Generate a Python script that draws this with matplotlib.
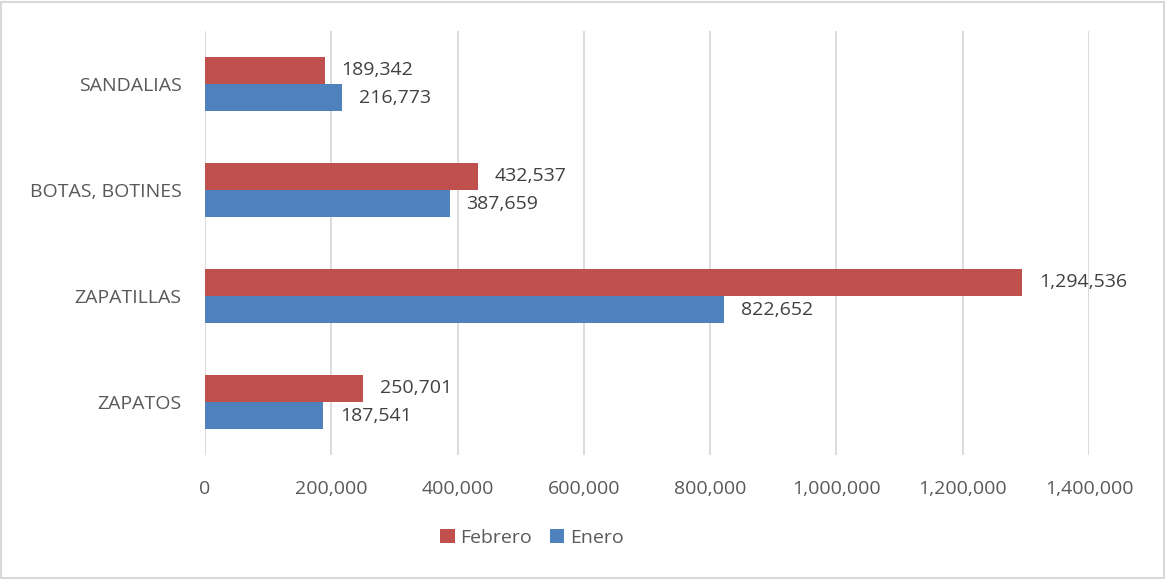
import matplotlib.pyplot as plt
import matplotlib.patches as patches
import numpy as np

categories = ['ZAPATOS', 'ZAPATILLAS', 'BOTAS, BOTINES', 'SANDALIAS']
enero = [187541, 822652, 387659, 216773]
febrero = [250701, 1294536, 432537, 189342]
xticks = [0, 200000, 400000, 600000, 800000, 1000000, 1200000, 1400000]

plt.rcParams['font.family'] = ['Open Sans', 'DejaVu Sans']

fig = plt.figure(figsize=(11.66, 5.79), dpi=100)
ax = fig.add_axes([205 / 1166, 1 - 455 / 579, (1089 - 205) / 1166, 424 / 579])

y = np.arange(len(categories))
h = 0.255
c_feb = '#C0504D'
c_ene = '#4F81BD'
b_ene = ax.barh(y - h / 2, enero, height=h, color=c_ene, label='Enero', zorder=3)
b_feb = ax.barh(y + h / 2, febrero, height=h, color=c_feb, label='Febrero', zorder=3)

for bars, vals in ((b_ene, enero), (b_feb, febrero)):
    for bar, v in zip(bars, vals):
        ax.annotate(f'{v:,}', (v, bar.get_y() + bar.get_height() / 2),
                    xytext=(12, 0), textcoords='offset points',
                    va='center', ha='left', fontsize=14, color='#404040')

ax.set_xlim(0, 1400000)
ax.set_ylim(-0.5, 3.5)
ax.set_xticks(xticks)
ax.set_xticklabels([f'{t:,}' for t in xticks])
ax.set_yticks(y)
ax.set_yticklabels(categories)
ax.tick_params(axis='both', length=0, labelsize=14, colors='#595959')
ax.tick_params(axis='x', pad=18)
ax.tick_params(axis='y', pad=17)
ax.grid(axis='x', color='#D9D9D9', linewidth=1.3, zorder=0)
for s in ax.spines.values():
    s.set_visible(False)

handles, labels = ax.get_legend_handles_labels()
fig.legend(handles[::-1], labels[::-1], loc='center', ncol=2,
           bbox_to_anchor=(532 / 1166, 1 - 538 / 579), frameon=False,
           fontsize=14, labelcolor='#595959', handlelength=0.75,
           handleheight=0.75, handletextpad=0.3, columnspacing=0.9)

fig.patches.append(patches.Rectangle((0.001, 0.002), 0.997, 0.995, transform=fig.transFigure,
                                     fill=False, edgecolor='#D9D9D9', linewidth=1.5))

fig.savefig('out.png', dpi=100)
